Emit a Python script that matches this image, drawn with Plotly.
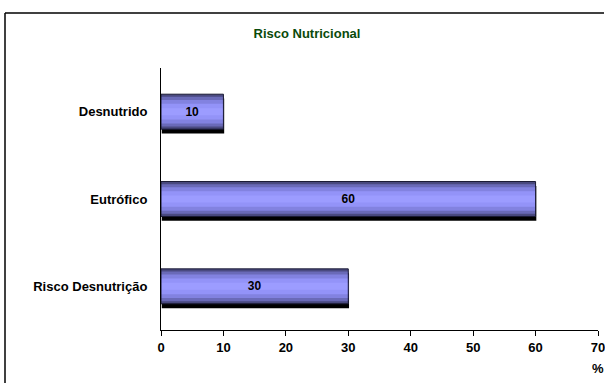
import plotly.graph_objects as go

categories = ["Risco Desnutrição", "Eutrófico", "Desnutrido"]
values = [30, 60, 10]
x_ticks = [0, 10, 20, 30, 40, 50, 60, 70]
title_text = "Risco Nutricional"
axis_unit = "%"

ypos = list(range(len(categories)))
FONT = "Liberation Sans, Arial, sans-serif"
FS = 13

fig = go.Figure()

# shadow
fig.add_trace(go.Bar(
    y=[p - 0.05 for p in ypos], x=values, base=[0.12] * len(values),
    orientation="h", width=0.4, marker=dict(color="#000000", line=dict(width=0)),
    hoverinfo="skip", showlegend=False))

# gradient layers
layers = [(0.40, "#4a4a80"), (0.34, "#6a6ab8"), (0.27, "#8282e0"), (0.18, "#9393f8"), (0.08, "#9c9cff")]
for w, c in layers:
    fig.add_trace(go.Bar(
        y=ypos, x=values, orientation="h", width=w,
        marker=dict(color=c, line=dict(width=0)),
        hoverinfo="skip", showlegend=False))

# outline + labels
fig.add_trace(go.Bar(
    y=ypos, x=values, orientation="h", width=0.4,
    marker=dict(color="rgba(0,0,0,0)", line=dict(color="#1a1a33", width=1)),
    text=["<b>%d</b>" % v for v in values], textposition="inside", insidetextanchor="middle",
    textfont=dict(family=FONT, size=12, color="#000000"),
    showlegend=False))

fig.update_layout(
    barmode="overlay",
    width=605, height=383,
    margin=dict(l=161, r=7, t=68, b=53),
    paper_bgcolor="white", plot_bgcolor="white",
    font=dict(family=FONT, size=FS, color="#000000"),
    title=dict(text="<b>" + title_text + "</b>", x=307 / 605, xanchor="center",
               y=1 - 33 / 383, yanchor="middle",
               font=dict(family=FONT, size=FS, color="#0a4a0a")),
    xaxis=dict(range=[0, 70], tickvals=x_ticks, ticktext=["<b>%d</b>" % t for t in x_ticks],
               showgrid=False, zeroline=False, showline=True, linecolor="#000000", linewidth=1,
               ticks="outside", ticklen=5, tickcolor="#000000", tickfont=dict(size=FS),
               ticklabeloverflow="allow", automargin=False),
    yaxis=dict(range=[-0.5, 2.5], tickvals=ypos, ticktext=["<b>%s</b>" % c for c in categories],
               showgrid=False, zeroline=False, showline=True, linecolor="#000000", linewidth=1,
               ticks="", ticklabelstandoff=10, tickfont=dict(size=FS), automargin=False),
    annotations=[dict(text="<b>" + axis_unit + "</b>", xref="paper", yref="paper",
                      x=1.0, y=-38 / 262, xanchor="center",
                      yanchor="middle", showarrow=False, font=dict(size=FS))],
    shapes=[
        dict(type="line", xref="paper", yref="paper",
             x0=(5 - 161) / 437, x1=(5 - 161) / 437, y0=-53 / 262, y1=1 + (68 - 13) / 262,
             line=dict(color="#000000", width=1.5)),
        dict(type="line", xref="paper", yref="paper",
             x0=(5 - 161) / 437, x1=1 + 6 / 437, y0=1 + (68 - 13) / 262, y1=1 + (68 - 13) / 262,
             line=dict(color="#000000", width=1.5)),
    ],
)

fig.write_html("out.html")
